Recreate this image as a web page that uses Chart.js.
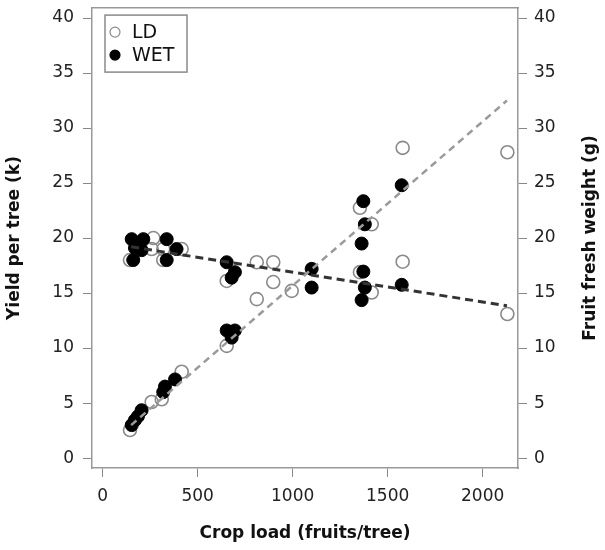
<!DOCTYPE html>
<html>
<head>
<meta charset="utf-8">
<script src="https://cdn.jsdelivr.net/npm/chart.js@4"></script>
<style>
  html, body { margin: 0; padding: 0; background: #fff; }
  canvas { display: block; }
</style>
</head>
<body>
<canvas id="chart" width="605" height="550"></canvas>
<script>
// crop load (fruits/tree) and measured value, per treatment
const ldLoad = [144, 258, 267, 319, 319, 416, 144, 258, 311, 416, 653, 653, 811, 811, 898, 898, 995,
  1354, 1354, 1416, 1416, 1579, 1579, 2130, 2130];
const ldValue = [18.0, 19.0, 20.0, 19.0, 18.0, 19.0, 2.55, 5.1, 5.35, 7.85, 16.1, 10.2, 17.8, 14.45, 17.8, 16.0, 15.2,
  16.9, 22.75, 21.25, 15.05, 28.2, 17.85, 27.8, 13.1];

const wetLoad = [153, 214, 337, 170, 205, 389, 161, 337, 153, 170, 186, 205, 319, 328, 381,
  653, 696, 679, 653, 696, 679, 1100, 1100, 1372, 1380, 1363, 1372, 1380, 1363, 1574, 1574];
const wetValue = [19.9, 19.9, 19.9, 19.1, 18.9, 19.0, 18.0, 18.0, 3.0, 3.45, 3.8, 4.35, 6.0, 6.5, 7.15,
  17.8, 16.9, 16.4, 11.6, 11.6, 10.95, 17.2, 15.5, 23.35, 21.25, 19.5, 16.95, 15.5, 14.36, 24.8, 15.75];

// fitted lines (end points)
const fitLoad = [150, 2128];
const yieldFit = [3.0, 32.5];
const weightFit = [19.2, 13.85];

const xTicks = [0, 500, 1000, 1500, 2000];
const yTicks = [0, 5, 10, 15, 20, 25, 30, 35, 40];

const toPoints = (xs, ys) => xs.map((x, i) => ({ x: x, y: ys[i] }));

const boxColor = "#999999";
const tickFont = { family: "DejaVu Sans", size: 17 };
const titleFont = { family: "DejaVu Sans", size: 17, weight: "bold" };
const rightTitle = "Fruit fresh weight (g)";

// legend box inside the plot (top-left) and the right-hand axis title
const boxLegend = {
  id: "boxLegend",
  afterDatasetsDraw(chart) {
    const ctx = chart.ctx;
    const area = chart.chartArea;
    const x0 = area.left + 13, y0 = area.top + 7;
    const w = 82, h = 57;
    ctx.save();
    ctx.fillStyle = "#fff";
    ctx.fillRect(x0, y0, w, h);
    ctx.strokeStyle = "#8a8a8a";
    ctx.lineWidth = 1.5;
    ctx.strokeRect(x0, y0, w, h);
    const items = chart.data.datasets
      .filter(d => d.legendOrder !== undefined)
      .sort((a, b) => a.legendOrder - b.legendOrder);
    items.forEach((d, i) => {
      const cy = y0 + 17 + i * 23;
      ctx.beginPath();
      ctx.arc(x0 + 10, cy, 5, 0, Math.PI * 2);
      ctx.fillStyle = d.legendFill;
      ctx.fill();
      ctx.strokeStyle = d.borderColor;
      ctx.lineWidth = 1.2;
      ctx.stroke();
      ctx.fillStyle = "#111";
      ctx.font = "19px 'DejaVu Sans'";
      ctx.textBaseline = "middle";
      ctx.fillText(d.label, x0 + 27, cy + 1);
    });

    // right axis title, reading bottom to top like the left one
    ctx.translate(591, (area.top + area.bottom) / 2);
    ctx.rotate(-Math.PI / 2);
    ctx.font = "bold 17px 'DejaVu Sans'";
    ctx.textAlign = "center";
    ctx.textBaseline = "middle";
    ctx.fillStyle = "#111";
    ctx.fillText(rightTitle, 0, 0);
    ctx.restore();
  }
};

const setTicks = list => scale => { scale.ticks = list.map(v => ({ value: v })); };
const plain = v => String(v);
// fixed axis sizes, no extra room for labels hanging past the plot box
const fitY = width => s => { s.width = width; s.paddingTop = 0; s.paddingBottom = 0; };
const fitX = height => s => { s.height = height; s.paddingLeft = 0; s.paddingRight = 0; };

new Chart(document.getElementById("chart"), {
  type: "scatter",
  data: {
    datasets: [
      {
        label: "Yield fit",
        type: "line",
        data: toPoints(fitLoad, yieldFit),
        borderColor: "#9a9a9a",
        borderWidth: 2.5,
        borderDash: [7, 5],
        pointRadius: 0,
        fill: false
      },
      {
        label: "Weight fit",
        type: "line",
        data: toPoints(fitLoad, weightFit),
        borderColor: "#333333",
        borderWidth: 3,
        borderDash: [8, 5],
        pointRadius: 0,
        fill: false
      },
      {
        label: "WET",
        data: toPoints(wetLoad, wetValue),
        pointRadius: 6.5,
        pointBackgroundColor: "#000",
        borderColor: "#000",
        pointBorderWidth: 1,
        legendOrder: 1,
        legendFill: "#000"
      },
      {
        label: "LD",
        data: toPoints(ldLoad, ldValue),
        pointRadius: 6.5,
        pointBackgroundColor: "rgba(255,255,255,0)",
        borderColor: "#8a8a8a",
        pointBorderWidth: 1.6,
        legendOrder: 0,
        legendFill: "#fff"
      }
    ]
  },
  options: {
    responsive: false,
    animation: false,
    devicePixelRatio: 1,
    layout: { padding: { top: 6, left: 0, right: 0, bottom: 0 } },
    plugins: {
      legend: { display: false },
      tooltip: { enabled: false }
    },
    scales: {
      x: {
        type: "linear",
        position: "bottom",
        min: -56,
        max: 2186,
        afterBuildTicks: setTicks(xTicks),
        afterFit: fitX(82),
        border: { display: true, color: boxColor, width: 1.5 },
        grid: { drawOnChartArea: false, drawTicks: true, tickLength: 9, color: "#888" },
        ticks: { font: tickFont, color: "#222", padding: 9, maxRotation: 0, callback: plain },
        title: { display: true, text: "Crop load (fruits/tree)", font: titleFont, color: "#111", padding: { top: 4, bottom: 6 } }
      },
      x2: {
        type: "linear",
        position: "top",
        min: -56,
        max: 2186,
        afterFit: fitX(0),
        border: { display: true, color: boxColor, width: 1.5 },
        grid: { drawOnChartArea: false, drawTicks: false },
        ticks: { display: false }
      },
      y: {
        type: "linear",
        position: "left",
        min: -0.9,
        max: 40.9,
        afterBuildTicks: setTicks(yTicks),
        afterFit: fitY(92),
        border: { display: true, color: boxColor, width: 1.5 },
        grid: { drawOnChartArea: false, drawTicks: true, tickLength: 9, color: "#888" },
        ticks: { font: tickFont, color: "#222", padding: 9, callback: plain },
        title: { display: true, text: "Yield per tree (k)", font: titleFont, color: "#111", padding: { top: 4, bottom: 4 } }
      },
      y2: {
        type: "linear",
        position: "right",
        min: -0.9,
        max: 40.9,
        afterBuildTicks: setTicks(yTicks),
        afterFit: fitY(87),
        border: { display: true, color: boxColor, width: 1.5 },
        grid: { drawOnChartArea: false, drawTicks: true, tickLength: 9, color: "#888" },
        ticks: { font: tickFont, color: "#222", padding: 7, callback: plain },
        title: { display: false }
      }
    }
  },
  plugins: [boxLegend]
});
</script>
</body>
</html>
